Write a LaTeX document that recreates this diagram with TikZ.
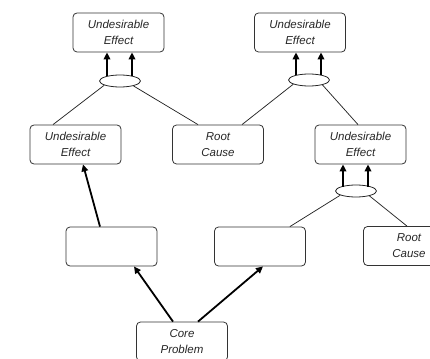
\documentclass[tikz,border=0pt]{standalone}
\usepackage{fontspec}
\setmainfont{Liberation Sans}
\usetikzlibrary{arrows.meta,shapes.geometric,calc}
\begin{document}
\begin{tikzpicture}[x=1pt,y=-1pt,
  box/.style={draw=black!80,line width=0.8pt,rounded corners=4pt,
    minimum width=91pt,minimum height=39pt,inner sep=0pt,align=center,
    text=black!85,font=\fontsize{11.5}{16}\selectfont\itshape},
  junction/.style={draw=black!85,ellipse,line width=0.8pt,
    minimum width=41pt,minimum height=12pt,inner sep=0pt},
  link/.style={draw=black!85,line width=0.75pt},
  cause/.style={draw=black,line width=1.8pt,
    -{Triangle[length=7pt,width=6.5pt]}}]
\useasboundingbox (0,0) rectangle (430,358);
\clip (0,0) rectangle (430,358);

% effect / cause boxes
\node[box] (ue1) at (118.5,32.5) {Undesirable\\Effect};
\node[box] (ue2) at (300,32.5) {Undesirable\\Effect};
\node[box] (ue3) at (75.5,144.5) {Undesirable\\Effect};
\node[box] (rc1) at (218,144.5) {Root\\Cause};
\node[box] (ue4) at (360.5,144.5) {Undesirable\\Effect};
\node[box] (b1) at (111.5,246.5) {};
\node[box] (b2) at (260,246.5) {};
\node[box] (rc2) at (409,246) {Root\\Cause};
\node[box] (core) at (182,341.5) {Core\\Problem};

% "and" junctions
\node[junction] (e1) at (120,81) {};
\node[junction] (e2) at (309,80) {};
\node[junction] (e3) at (356,191) {};

% inputs into each junction
\draw[link] (e1.195) -- ([xshift=-22.5pt]ue3.north);
\draw[link] (e1.340) -- ([xshift=-20pt]rc1.north);
\draw[link] (e2.195) -- ([xshift=24pt]rc1.north);
\draw[link] (e2.340) -- ([xshift=-2.5pt]ue4.north);
\draw[link] (e3.195) -- ([xshift=-16pt]b2.north east);
\draw[link] (e3.340) -- ([xshift=-2pt]rc2.north);

% junction outputs
\foreach \j/\t in {e1/ue1,e2/ue2,e3/ue4}{
  \coordinate (l\j) at ($(\j.center)+(-13,-4.5)$);
  \coordinate (r\j) at ($(\j.center)+(12,-4.5)$);
  \draw[cause] (l\j) -- (l\j |- \t.south);
  \draw[cause] (r\j) -- (r\j |- \t.south);
}

% direct causal arrows
\draw[cause] ([xshift=-11.5pt]b1.north) -- ([xshift=7.5pt]ue3.south);
\draw[cause] ([xshift=-9pt]core.north) -- ([xshift=22.5pt]b1.south);
\draw[cause] ([xshift=16pt]core.north) -- ([xshift=3pt]b2.south);
\end{tikzpicture}
\end{document}
